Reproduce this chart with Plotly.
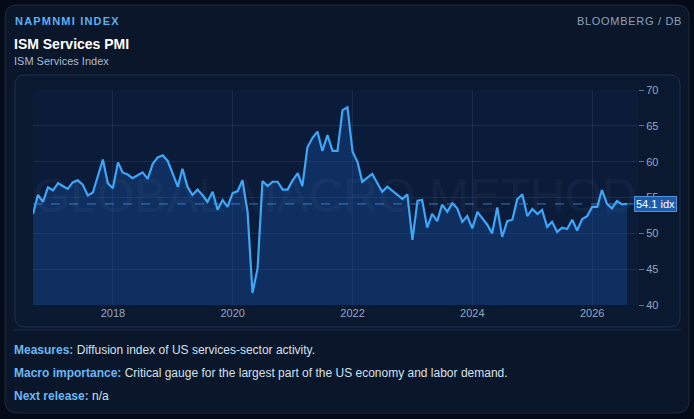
import pandas as pd
import plotly.graph_objects as go

# ---------------- data ----------------
start_month = "2016-09-01"
n_months = 120
pmi_values = [
    52.7, 55.35, 54.4, 56.4, 56.0, 57.0, 56.6, 56.2, 57.1, 57.4, 56.8, 55.3, 55.7, 57.9, 60.3, 57.0, 56.3, 59.9, 58.5, 58.2, 57.7,
    58.1, 58.5, 57.6, 59.7, 60.6, 60.9, 60.1, 58.2, 56.5, 59.0, 56.5, 55.35, 56.1, 55.35, 54.4, 55.8, 53.3, 54.65, 53.7, 55.6,
    55.9, 57.4, 53.0, 41.7, 45.1, 57.3, 56.6, 57.2, 57.2, 56.1, 56.1, 57.4, 58.4, 56.6, 62.0, 63.3, 64.2, 61.5, 63.7, 61.5,
    61.5, 67.2, 67.6, 61.4, 59.9, 57.2, 57.8, 58.3, 57.0, 55.8, 56.5, 55.95, 55.35, 54.8, 55.45, 49.1, 54.55, 54.65, 50.8, 52.7,
    51.7, 54.0, 53.0, 54.2, 53.5, 51.6, 52.4, 50.7, 53.0, 52.2, 51.2, 50.0, 53.6, 49.5, 51.7, 51.9, 54.75, 55.45, 52.4, 53.4,
    52.7, 53.25, 50.9, 51.6, 50.2, 50.8, 50.6, 51.9, 50.4, 52.0, 52.4, 53.7, 53.7, 56.05, 54.1, 53.5, 54.5, 54.05, 54.1,
]
dates = pd.date_range(start_month, periods=n_months, freq="MS")
last_value = pmi_values[-1]
unit = "idx"

y_ticks = [40, 45, 50, 55, 60, 65, 70]
x_tick_years = ["2018-01-01", "2020-01-01", "2022-01-01", "2024-01-01", "2026-01-01"]
x_tick_labels = ["2018", "2020", "2022", "2024", "2026"]

ticker = "NAPMNMI INDEX"
source = "BLOOMBERG / DB"
title = "ISM Services PMI"
subtitle = "ISM Services Index"
notes = [
    ("Measures:", "Diffusion index of US services-sector activity."),
    ("Macro importance:", "Critical gauge for the largest part of the US economy and labor demand."),
    ("Next release:", "n/a"),
]
watermark = "GLOBAL MACRO METHOD"

# ---------------- layout geometry ----------------
W, H = 694, 419
PL, PR, PT, PB = 33, 638, 90, 305  # plot area in pixels


def px(x):
    return (x - PL) / (PR - PL)


def py(y):
    return (PB - y) / (PB - PT)


def rrect(x0, y0, x1, y1, r):
    pts = [
        f"M {px(x0 + r)} {py(y0)}",
        f"L {px(x1 - r)} {py(y0)}",
        f"Q {px(x1)} {py(y0)} {px(x1)} {py(y0 + r)}",
        f"L {px(x1)} {py(y1 - r)}",
        f"Q {px(x1)} {py(y1)} {px(x1 - r)} {py(y1)}",
        f"L {px(x0 + r)} {py(y1)}",
        f"Q {px(x0)} {py(y1)} {px(x0)} {py(y1 - r)}",
        f"L {px(x0)} {py(y0 + r)}",
        f"Q {px(x0)} {py(y0)} {px(x0 + r)} {py(y0)}",
        "Z",
    ]
    return " ".join(pts)


FONT = "Liberation Sans, Arial, sans-serif"

fig = go.Figure()
fig.add_trace(
    go.Scatter(
        x=dates,
        y=pmi_values,
        mode="lines",
        line=dict(color="#3ea6f7", width=2.2),
        fill="tozeroy",
        fillcolor="rgba(24,90,180,0.32)",
        hoverinfo="skip",
    )
)

shapes = [
    dict(type="path", xref="paper", yref="paper", path=rrect(5, 5, 689, 413, 12),
         fillcolor="#0a1629", line=dict(color="#1a2b45", width=1), layer="below"),
    dict(type="path", xref="paper", yref="paper", path=rrect(15, 75, 680, 327, 10),
         fillcolor="#0a1830", line=dict(color="#1c3050", width=1), layer="below"),
    dict(type="rect", xref="paper", yref="paper", x0=0, x1=1, y0=0, y1=1,
         fillcolor="#0b1b3a", line=dict(width=0), layer="below"),
    dict(type="line", xref="paper", yref="paper", x0=px(14), x1=px(681), y0=py(330), y1=py(330),
         line=dict(color="#1a2c47", width=1), layer="below"),
    dict(type="line", xref="paper", yref="y", x0=0, x1=1, y0=last_value, y1=last_value,
         line=dict(color="rgba(70,150,230,0.75)", width=1, dash="dash")),
]

ann = [
    dict(text=watermark, x=px(335), y=py(195), xref="paper", yref="paper", showarrow=False,
         font=dict(family=FONT, size=48, color="rgba(255,255,255,0.05)"),
         xanchor="center", yanchor="middle"),
    dict(text=f'<span style="letter-spacing:1.2px"><b>{ticker}</b></span>', x=px(13), y=py(21),
         xref="paper", yref="paper", showarrow=False, xanchor="left", yanchor="middle",
         font=dict(family=FONT, size=11, color="#5cb0f2")),
    dict(text=f'<span style="letter-spacing:0.7px">{source}</span>', x=px(684), y=py(21),
         xref="paper", yref="paper", showarrow=False, xanchor="right", yanchor="middle",
         font=dict(family=FONT, size=11, color="#8ea2b9")),
    dict(text=f"<b>{title}</b>", x=px(12), y=py(44), xref="paper", yref="paper", showarrow=False,
         xanchor="left", yanchor="middle", font=dict(family=FONT, size=14, color="#ffffff")),
    dict(text=subtitle, x=px(12), y=py(61), xref="paper", yref="paper", showarrow=False,
         xanchor="left", yanchor="middle", font=dict(family=FONT, size=11, color="#a8bcd3")),
    dict(text=f"{last_value:.1f} {unit}", x=1, y=last_value, xref="paper", yref="y", showarrow=False,
         xanchor="left", yanchor="middle", xshift=-4,
         font=dict(family=FONT, size=11, color="#ffffff"),
         bgcolor="#1d5cab", bordercolor="#4d90dc", borderwidth=1, borderpad=1),
]
for i, (k, v) in enumerate(notes):
    ann.append(dict(text=f'<b><span style="color:#6cb8f5">{k}</span></b> {v}', x=px(12), y=py(350 + 23 * i),
                    xref="paper", yref="paper", showarrow=False, xanchor="left", yanchor="middle",
                    font=dict(family=FONT, size=12, color="#d5e1ee")))

fig.update_layout(
    width=W,
    height=H,
    margin=dict(l=PL, r=W - PR, t=PT, b=H - PB),
    paper_bgcolor="#040b17",
    plot_bgcolor="rgba(0,0,0,0)",
    showlegend=False,
    shapes=shapes,
    annotations=ann,
    xaxis=dict(
        type="date",
        range=["2016-09-01", "2026-10-07"],
        tickvals=x_tick_years,
        ticktext=x_tick_labels,
        showgrid=True,
        gridcolor="rgba(120,160,210,0.13)",
        gridwidth=1,
        zeroline=False,
        showline=False,
        ticks="",
        tickfont=dict(family=FONT, size=11, color="#93a9c2"),
    ),
    yaxis=dict(
        range=[40, 70],
        side="right",
        tickvals=y_ticks,
        showgrid=True,
        gridcolor="rgba(120,160,210,0.13)",
        gridwidth=1,
        zeroline=False,
        showline=False,
        ticks="outside",
        ticklen=5,
        tickcolor="#5d7390",
        tickfont=dict(family=FONT, size=11, color="#93a9c2"),
    ),
)

fig.write_html(
    "out.html",
    config={"displayModeBar": False, "staticPlot": True},
    post_script="document.body.style.margin='0';document.body.style.background='#040b17';",
)
